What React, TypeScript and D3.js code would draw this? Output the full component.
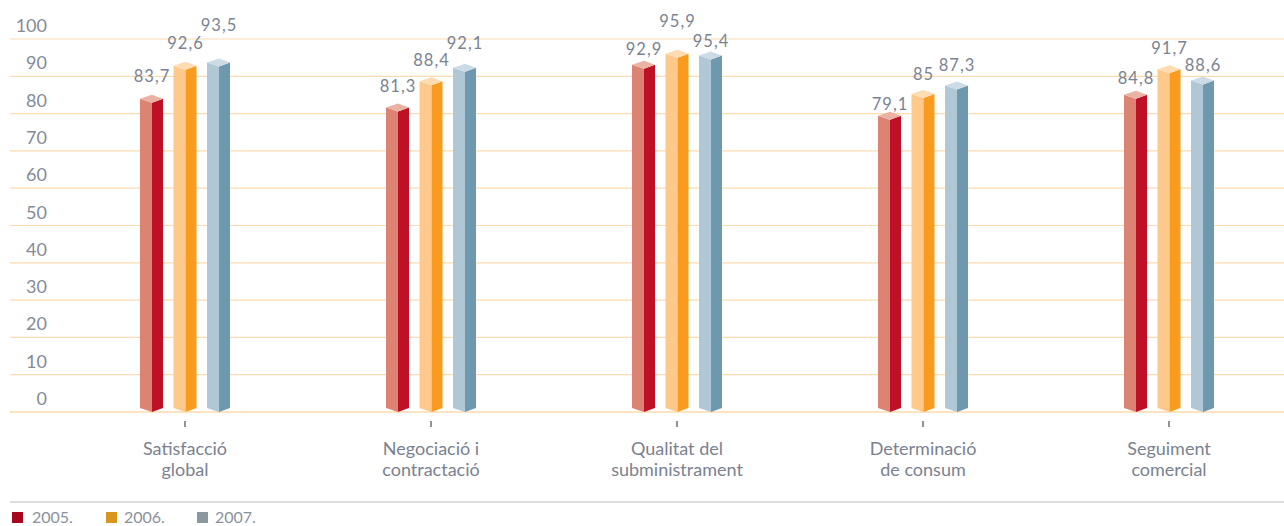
import React from "react";
import * as d3 from "d3";

const categories = [
  ["Satisfacció", "global"],
  ["Negociació i", "contractació"],
  ["Qualitat del", "subministrament"],
  ["Determinació", "de consum"],
  ["Seguiment", "comercial"],
];
const years = ["2005.", "2006.", "2007."];
const values2005 = [83.7, 81.3, 92.9, 79.1, 84.8];
const values2006 = [92.6, 88.4, 95.9, 85, 91.7];
const values2007 = [93.5, 92.1, 95.4, 87.3, 88.6];
const yTicks = [0, 10, 20, 30, 40, 50, 60, 70, 80, 90, 100];

const series = [values2005, values2006, values2007];
// vertical gap (px) between bar top and its value label, per series/category (layout only)
const labelLift = [
  [19, 18, 12, 8, 13],
  [19, 17, 29, 16, 17],
  [34, 21, 10, 16, 12],
];
const palettes = [
  { front: "#dc8373", side: "#bf1126", top: "#e9b2a3", legend: "#a6081f" },
  { front: "#fec98b", side: "#f89b1f", top: "#fedcb2", legend: "#d8961f" },
  { front: "#b0c7d5", side: "#6e98ad", top: "#cbdce6", legend: "#8b989f" },
];

const fmt = (v: number) => String(v).replace(".", ",");

export default function App() {
  const W = 1284;
  const H = 526;
  const y = d3.scaleLinear().domain([0, 100]).range([412, 39]);
  const yBar = d3.scaleLinear().domain([0, 100]).range([412, 42.5]);
  const x = d3
    .scaleBand<number>()
    .domain(d3.range(categories.length))
    .range([62, 1292]);
  const frontW = 12;
  const sideW = 11;
  const step = 33.5;
  const font = "Lato, 'Open Sans', sans-serif";
  const textColor = "#7a8393";

  return (
    <svg width={W} height={H} style={{ position: "absolute", left: 0, top: 0 }}>
      {yTicks.map((t) => (
        <g key={t}>
          <line
            x1={10}
            x2={W}
            y1={y(t)}
            y2={y(t)}
            stroke={t === 0 ? "#f9c985" : "#fcdcb2"}
            strokeWidth={1.2}
          />
          <text
            x={47}
            y={y(t) - 7}
            textAnchor="end"
            fontFamily={font}
            fontSize={18}
            fontWeight={400}
            fill="#838b98"
          >
            {t}
          </text>
        </g>
      ))}
      {categories.map((c, i) => {
        const cx = (x(i) as number) + x.bandwidth() / 2;
        return (
          <g key={i}>
            <line x1={cx} x2={cx} y1={421} y2={427} stroke="#8a93a0" strokeWidth={2} />
            {c.map((line, k) => (
              <text
                key={k}
                x={cx}
                y={455 + k * 21}
                textAnchor="middle"
                fontFamily={font}
                fontSize={18}
                fontWeight={400}
                fill="#7a8290"
              >
                {line}
              </text>
            ))}
            {series.map((s, j) => {
              const v = s[i];
              const x0 = cx - step - (frontW + sideW) / 2 + j * step;
              const xm = x0 + frontW;
              const x1 = xm + sideW;
              const yb = yBar(0);
              const yv = yBar(v);
              const d = 4;
              const p = palettes[j];
              const apex = yv - 2 * d;
              return (
                <g key={j}>
                  <polygon
                    points={`${x0},${yv - d} ${xm},${yv} ${xm},${yb} ${x0},${yb - d}`}
                    fill={p.front}
                  />
                  <polygon
                    points={`${xm},${yv} ${x1},${yv - d} ${x1},${yb - d} ${xm},${yb}`}
                    fill={p.side}
                  />
                  <polygon
                    points={`${x0},${yv - d} ${xm},${apex} ${x1},${yv - d} ${xm},${yv}`}
                    fill={p.top}
                  />
                  <text
                    x={xm}
                    y={apex - labelLift[j][i] + 6}
                    textAnchor="middle"
                    fontFamily={font}
                    fontSize={16.5}
                    fontWeight={400}
                    letterSpacing={1}
                    fill={textColor}
                  >
                    {fmt(v)}
                  </text>
                </g>
              );
            })}
          </g>
        );
      })}
      <line x1={10} x2={W} y1={502} y2={502} stroke="#b9bec6" strokeWidth={1.2} />
      {years.map((yr, j) => {
        const lx = [12, 106, 197][j];
        const tx = [32, 124, 215][j];
        return (
          <g key={yr}>
            <rect x={lx} y={512} width={11} height={11} fill={palettes[j].legend} />
            <text
              x={tx}
              y={523}
              fontFamily={font}
              fontSize={16}
              fontWeight={400}
              fill="#8a929e"
            >
              {yr}
            </text>
          </g>
        );
      })}
    </svg>
  );
}
